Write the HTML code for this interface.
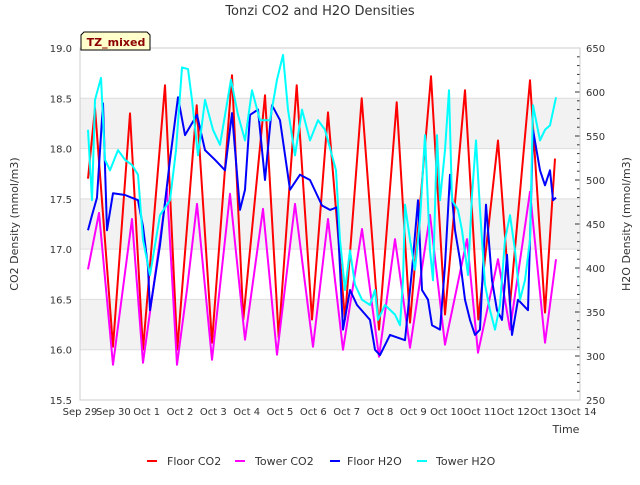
<!DOCTYPE html>
<html><head><meta charset="utf-8"><style>
body{margin:0;background:#fff;}
svg text{font-family:"DejaVu Sans","Liberation Sans",sans-serif;}
</style></head><body>
<svg id="chart" width="640" height="480" viewBox="0 0 640 480" xmlns="http://www.w3.org/2000/svg">
<rect width="640" height="480" fill="#fff"/>
<text x="320" y="15" text-anchor="middle" font-size="13" fill="#333">Tonzi CO2 and H2O Densities</text>
<g id="bands"></g>
<g id="axes"></g>
<g id="series"></g>
<rect x="80" y="48" width="500" height="352" fill="none" stroke="#ccc" stroke-width="1"/>
<g>
<polygon points="84,32 147,32 150,35 150,50 81,50 81,35" fill="#ffffcc" stroke="#000" stroke-width="1"/>
<text x="116" y="46" text-anchor="middle" font-size="11" font-weight="bold" fill="#8b0000">TZ_mixed</text>
</g>
<text transform="translate(18,224) rotate(-90)" text-anchor="middle" font-size="11" fill="#333">CO2 Density (mmol/m3)</text>
<text transform="translate(630,224) rotate(-90)" text-anchor="middle" font-size="11" fill="#333">H2O Density (mmol/m3)</text>
<text x="566" y="433" text-anchor="middle" font-size="11" fill="#333">Time</text>
<g font-size="11" fill="#333">
<g><line x1="147" y1="461" x2="157" y2="461" stroke="#ff0000" stroke-width="2"/><text x="167" y="465">Floor CO2</text></g>
<g><line x1="235" y1="461" x2="245" y2="461" stroke="#ff00ff" stroke-width="2"/><text x="255" y="465">Tower CO2</text></g>
<g><line x1="330" y1="461" x2="340" y2="461" stroke="#0000ff" stroke-width="2"/><text x="347" y="465">Floor H2O</text></g>
<g><line x1="417" y1="461" x2="427" y2="461" stroke="#00ffff" stroke-width="2"/><text x="436" y="465">Tower H2O</text></g>
</g>
</svg>
<script>
const xTickLabels=["Sep 29","Sep 30","Oct 1","Oct 2","Oct 3","Oct 4","Oct 5","Oct 6","Oct 7","Oct 8","Oct 9","Oct 10","Oct 11","Oct 12","Oct 13","Oct 14"];
const leftTicks=[15.5,16.0,16.5,17.0,17.5,18.0,18.5,19.0];
const rightTicks=[250,300,350,400,450,500,550,600,650];
const floorCO2Days=[0.24,0.45,0.99,1.5,1.89,2.55,2.92,3.5,3.96,4.56,4.9,5.55,5.96,6.5,6.96,7.44,7.95,8.45,8.97,9.5,9.9,10.53,10.95,11.55,11.95,12.54,12.9,13.5,13.95,14.25];
const floorCO2=[17.7,18.4,16.03,18.35,16.0,18.63,16.0,18.43,16.07,18.73,16.3,18.53,16.12,18.63,16.3,18.36,16.3,18.5,16.2,18.46,16.27,18.72,16.35,18.58,16.3,18.08,16.45,18.68,16.37,17.9];
const towerCO2Days=[0.24,0.57,0.99,1.56,1.89,2.61,2.91,3.21,3.51,3.96,4.5,4.95,5.49,5.91,6.45,6.99,7.44,7.89,8.46,8.97,9.45,9.9,10.5,10.95,11.61,11.94,12.54,12.9,13.5,13.95,14.28];
const towerCO2=[16.8,17.36,15.85,17.3,15.87,17.6,15.85,16.6,17.45,15.9,17.55,16.1,17.4,15.95,17.45,16.03,17.3,16.0,17.2,15.93,17.1,16.02,17.34,16.05,17.1,15.97,16.9,16.2,17.57,16.07,16.9];
const floorH2ODays=[0.24,0.36,0.51,0.69,0.81,0.99,1.35,1.74,1.89,2.04,2.1,2.4,2.7,2.94,3.15,3.51,3.75,4.05,4.35,4.56,4.8,4.95,5.1,5.34,5.55,5.76,6.0,6.3,6.6,6.9,7.26,7.5,7.71,7.89,8.1,8.31,8.7,8.85,9.0,9.3,9.75,9.96,10.14,10.26,10.44,10.56,10.8,10.95,11.1,11.25,11.4,11.55,11.7,11.85,12.0,12.18,12.36,12.51,12.66,12.81,12.96,13.14,13.44,13.59,13.8,13.95,14.1,14.19,14.28];
const floorH2O=[443,460,480,587,443,485,483,477,447,401,352,426,523,594,551,574,534,523,511,576,466,489,574,580,500,585,568,489,506,500,471,466,469,330,375,358,341,307,301,324,318,398,477,375,364,335,330,403,506,443,409,364,341,324,330,472,386,352,341,415,324,364,352,557,511,494,511,477,480];
const towerH2ODays=[0.24,0.36,0.45,0.63,0.75,0.9,1.14,1.35,1.56,1.74,1.89,2.1,2.4,2.7,2.88,3.06,3.24,3.36,3.54,3.75,3.99,4.2,4.53,4.74,4.95,5.16,5.4,5.7,5.91,6.09,6.24,6.45,6.66,6.9,7.14,7.35,7.68,7.8,7.95,8.1,8.25,8.46,8.7,8.85,8.94,9.15,9.45,9.6,9.69,9.75,9.9,10.05,10.2,10.35,10.5,10.59,10.71,10.8,10.95,11.07,11.16,11.34,11.46,11.64,11.76,11.88,12.0,12.15,12.3,12.45,12.6,12.75,12.9,13.05,13.2,13.35,13.5,13.59,13.8,13.95,14.1,14.28];
const towerH2O=[557,477,591,616,523,511,534,523,517,506,432,392,460,477,534,628,626,591,528,591,557,540,614,574,545,602,568,568,614,642,580,528,580,545,568,557,511,432,375,420,381,364,358,375,341,358,347,335,386,472,432,398,455,551,420,386,551,477,534,602,477,466,443,392,483,545,466,381,352,330,358,432,460,420,364,386,432,585,545,557,562,594];

const NS="http://www.w3.org/2000/svg";
const X0=80,X1=580,Y0=400,Y1=48;
function xScale(d){return X0+(X1-X0)*d/15;}
function yLeft(v){return Y0-(v-15.5)/(19.0-15.5)*(Y0-Y1);}
function yRight(v){return Y0-(v-250)/(650-250)*(Y0-Y1);}
function mk(tag,attrs,parent){const e=document.createElementNS(NS,tag);for(const k in attrs)e.setAttribute(k,attrs[k]);parent.appendChild(e);return e;}
const bands=document.getElementById('bands'),axes=document.getElementById('axes'),series=document.getElementById('series');
[[16.0,16.5],[17.0,17.5],[18.0,18.5]].forEach(b=>{
  const r=mk('rect',{x:X0,y:yLeft(b[1]),width:X1-X0,height:yLeft(b[0])-yLeft(b[1]),fill:'#f2f2f2'},bands);
  
  
});
leftTicks.forEach(v=>{
  const y=yLeft(v);
  const g=mk('line',{x1:X0,x2:X1,y1:y,y2:y,stroke:'#ddd','stroke-width':1},bands);
  
  
  const t=mk('text',{x:72,y:y+4,'text-anchor':'end','font-size':10,fill:'#333'},axes);
  t.textContent=v.toFixed(1);
  
  
});
for(let v=250;v<=650;v+=10){
  const y=yRight(v);const major=(v%50===0);
  const l=mk('line',{x1:X1,x2:X1-(major?5:3),y1:y,y2:y,stroke:'#333','stroke-width':1},axes);
  
  
}
rightTicks.forEach(v=>{
  const t=mk('text',{x:586,y:yRight(v)+4,'font-size':10,fill:'#333'},axes);
  t.textContent=v;
  
  
});
xTickLabels.forEach((lab,i)=>{
  const t=mk('text',{x:xScale(i),y:415,'text-anchor':'middle','font-size':10,fill:'#333'},axes);
  t.textContent=lab;
  
  
});
function drawLine(days,vals,yf,color,name){
  const pts=days.map((d,i)=>xScale(d).toFixed(1)+','+yf(vals[i]).toFixed(1)).join(' ');
  const p=mk('polyline',{points:pts,fill:'none',stroke:color,'stroke-width':2,'stroke-linejoin':'round'},series);
  
  
}
drawLine(floorCO2Days,floorCO2,yLeft,'#ff0000','floor-co2-line');
drawLine(towerCO2Days,towerCO2,yLeft,'#ff00ff','tower-co2-line');
drawLine(floorH2ODays,floorH2O,yRight,'#0000ff','floor-h2o-line');
drawLine(towerH2ODays,towerH2O,yRight,'#00ffff','tower-h2o-line');
</script>
</body></html>
